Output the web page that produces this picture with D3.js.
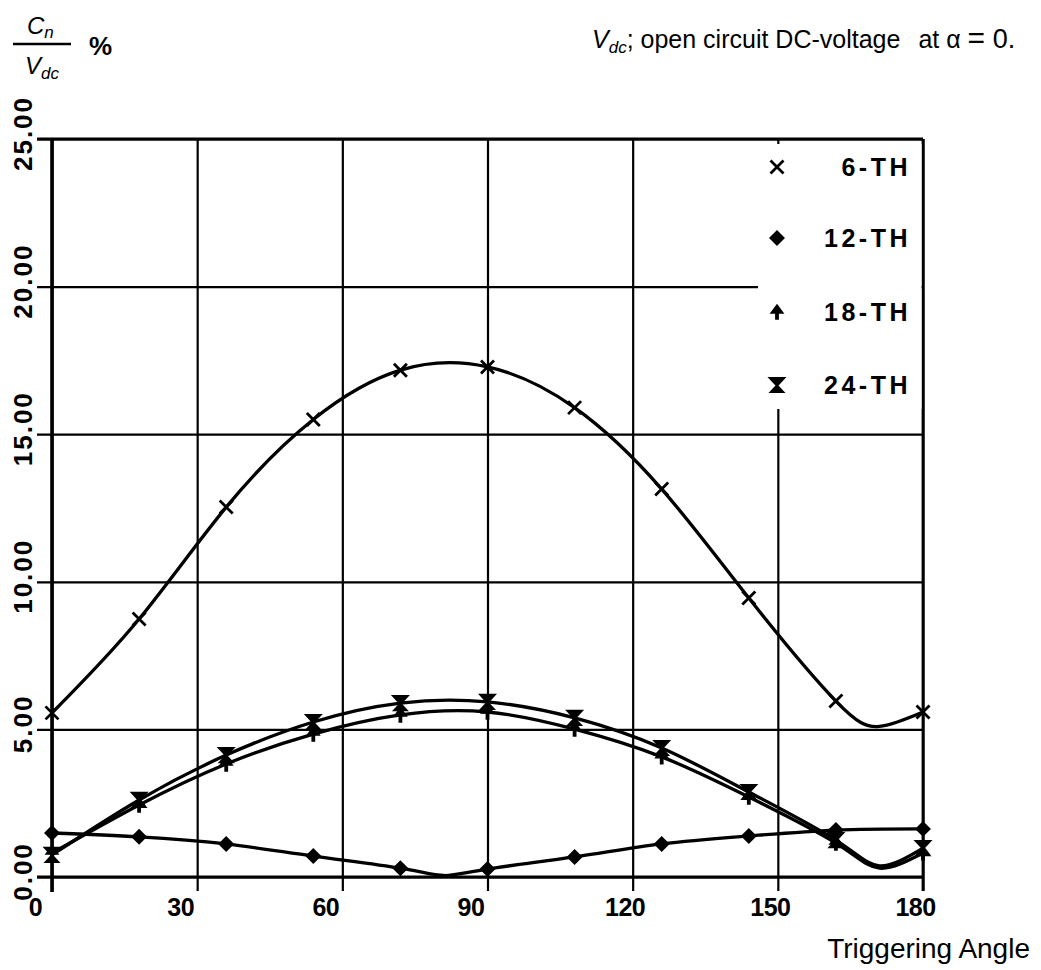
<!DOCTYPE html>
<html>
<head>
<meta charset="utf-8">
<script src="https://cdn.jsdelivr.net/npm/d3@7"></script>
<style>
  html, body { margin: 0; padding: 0; background: #fff; }
  svg { display: block; }
  text { fill: #000; }
</style>
</head>
<body>
<svg id="chart" width="1041" height="970"></svg>
<script>
// Harmonic content of the rectifier output vs. triggering angle (markers every 18 degrees)
const angles = [0, 18, 36, 54, 72, 90, 108, 126, 144, 162, 180];
const h6  = [5.56, 8.74, 12.53, 15.50, 17.17, 17.28, 15.90, 13.14, 9.45, 5.96, 5.59];
const h12 = [1.49, 1.36, 1.12, 0.71, 0.30, 0.27, 0.68, 1.12, 1.39, 1.59, 1.63];
const h18 = [0.81, 2.44, 3.83, 4.84, 5.49, 5.59, 5.01, 4.07, 2.71, 1.15, 0.81];
const h24 = [0.75, 2.61, 4.13, 5.25, 5.89, 5.93, 5.39, 4.37, 2.88, 1.25, 0.98];

// extra curve points (no marker) at the valleys between markers
const h6Valley  = [[171, 5.10]];
const h12Valley = [[81, 0.05]];
const h18Valley = [[171, 0.30]];
const h24Valley = [[171, 0.38]];

const seriesNames = ["6-TH", "12-TH", "18-TH", "24-TH"];
const seriesValues = [h6, h12, h18, h24];
const seriesValleys = [h6Valley, h12Valley, h18Valley, h24Valley];
const seriesMarkers = ["cross", "diamond", "spade", "hourglass"];

const xTicks = [0, 30, 60, 90, 120, 150, 180];
const yTicks = [0, 5, 10, 15, 20, 25];
const yTickFormat = d3.format(".2f");

const svg = d3.select("#chart");

const x = d3.scaleLinear().domain([0, 180]).range([52, 923]);
const y = d3.scaleLinear().domain([0, 25]).range([877, 139]);

const FONT = "'Liberation Sans', Arial, sans-serif";

// marker shapes
function markerPath(kind) {
  switch (kind) {
    case "cross":
      return "M-6.5,-6.5L6.5,6.5M6.5,-6.5L-6.5,6.5";
    case "diamond":
      return "M0,-7L7,0L0,7L-7,0Z";
    case "spade":
      return "M0,-7L6,1L1.2,1L1.2,7L-1.2,7L-1.2,1L-6,1Z";
    case "hourglass":
      return "M-7,-7L7,-7L-6,7L6,7Z";
  }
}
function drawMarker(g, kind, cx, cy) {
  const p = g.append("path")
    .attr("transform", `translate(${cx},${cy})`)
    .attr("d", markerPath(kind))
    .attr("stroke", "#000")
    .attr("stroke-linejoin", "miter");
  if (kind === "cross") {
    p.attr("fill", "none").attr("stroke-width", 2.8);
  } else if (kind === "hourglass") {
    p.attr("fill", "#000").attr("stroke-width", 2.2);
  } else {
    p.attr("fill", "#000").attr("stroke-width", 1.4);
  }
}

// horizontal grid + y tick labels
const yAxis = d3.axisLeft(y)
  .tickValues(yTicks)
  .tickSize(-(923 - 37))
  .tickFormat(yTickFormat);
const gy = svg.append("g").attr("transform", "translate(37,0)").call(yAxis);
gy.select(".domain").remove();
gy.selectAll(".tick line").attr("stroke", "#000").attr("stroke-width", 2.2);
gy.selectAll(".tick text")
  .attr("x", null).attr("dy", null)
  .attr("transform", "translate(-5,-6) rotate(-90)")
  .attr("text-anchor", "middle")
  .style("font-family", FONT)
  .style("font-weight", "bold")
  .style("font-size", "26px")
  .style("letter-spacing", "2px");

// vertical grid + x tick labels
const xAxis = d3.axisBottom(x)
  .tickValues(xTicks)
  .tickSize(-(891 - 139))
  .tickPadding(7)
  .tickFormat(d3.format("d"));
const gx = svg.append("g").attr("transform", "translate(0,891)").call(xAxis);
gx.select(".domain").remove();
gx.selectAll(".tick line").attr("stroke", "#000").attr("stroke-width", 2.2);
gx.selectAll(".tick text")
  .attr("text-anchor", "middle")
  .attr("x", d => (d >= 100 ? -8 : -17))
  .style("font-family", FONT)
  .style("font-weight", "bold")
  .style("font-size", "25px")
  .style("letter-spacing", "-0.5px");

// frame
const frame = svg.append("g").attr("stroke", "#000").attr("fill", "none");
frame.append("line").attr("x1", x(0)).attr("x2", x(0)).attr("y1", y(25) - 1).attr("y2", 892).attr("stroke-width", 3.6);
frame.append("line").attr("x1", 37).attr("x2", x(180)).attr("y1", y(25)).attr("y2", y(25)).attr("stroke-width", 2.8);
frame.append("line").attr("x1", x(180)).attr("x2", x(180)).attr("y1", y(25)).attr("y2", 891).attr("stroke-width", 2.8);
frame.append("line").attr("x1", 37).attr("x2", x(180)).attr("y1", y(0)).attr("y2", y(0)).attr("stroke-width", 2.8);

// curves
const line = d3.line()
  .x(d => x(d[0]))
  .y(d => y(d[1]))
  .curve(d3.curveNatural);

const plot = svg.append("g");
seriesValues.forEach((vals, i) => {
  const pts = angles.map((a, j) => [a, vals[j]])
    .concat(seriesValleys[i])
    .sort((a, b) => a[0] - b[0]);
  plot.append("path")
    .attr("d", line(pts))
    .attr("fill", "none")
    .attr("stroke", "#000")
    .attr("stroke-width", 3.3)
    .attr("stroke-linejoin", "round");
});
seriesValues.forEach((vals, i) => {
  const mg = plot.append("g");
  angles.forEach((a, j) => drawMarker(mg, seriesMarkers[i], x(a), y(vals[j])));
});

// legend
svg.append("rect")
  .attr("x", 758).attr("y", 144)
  .attr("width", x(180) - 758 - 1.5).attr("height", 409 - 144)
  .attr("fill", "#fff");
const legendY = [167, 238, 312, 385];
seriesNames.forEach((name, i) => {
  drawMarker(svg, seriesMarkers[i], 777, legendY[i]);
  svg.append("text")
    .attr("x", 911).attr("y", legendY[i] + 9)
    .attr("text-anchor", "end")
    .style("font-family", FONT)
    .style("font-weight", "bold")
    .style("font-size", "25px")
    .style("letter-spacing", "3.5px")
    .text(name);
});

// y axis title: Cn / Vdc  %
const ttl = svg.append("g").style("font-family", FONT).style("font-style", "italic");
ttl.append("text").attr("x", 27).attr("y", 34).style("font-size", "24px")
  .text("C").append("tspan").attr("dy", 4).style("font-size", "17px").text("n");
ttl.append("line").attr("x1", 13).attr("x2", 71).attr("y1", 44).attr("y2", 44)
  .attr("stroke", "#000").attr("stroke-width", 2.6);
ttl.append("text").attr("x", 25).attr("y", 74).style("font-size", "24px")
  .text("V").append("tspan").attr("dy", 5).style("font-size", "17px").text("dc");
svg.append("text").attr("x", 89).attr("y", 55)
  .style("font-family", FONT).style("font-weight", "bold").style("font-size", "26px")
  .text("%");

// note at top right
const note = svg.append("text").attr("x", 592).attr("y", 48)
  .style("font-family", FONT).style("font-size", "25px");
note.append("tspan").style("font-style", "italic").text("V");
note.append("tspan").attr("dy", 5).style("font-size", "17px").style("font-style", "italic").text("dc");
note.append("tspan").attr("dy", -5).text("; open circuit DC-voltage");
note.append("tspan").attr("dx", 18).text("at α ");
note.append("tspan").style("font-size", "30px").text("=");
note.append("tspan").style("font-size", "27px").text(" 0.");

// x axis title
svg.append("text").attr("x", 1030).attr("y", 958)
  .attr("text-anchor", "end")
  .style("font-family", FONT).style("font-size", "28px")
  .text("Triggering Angle");
</script>
</body>
</html>
